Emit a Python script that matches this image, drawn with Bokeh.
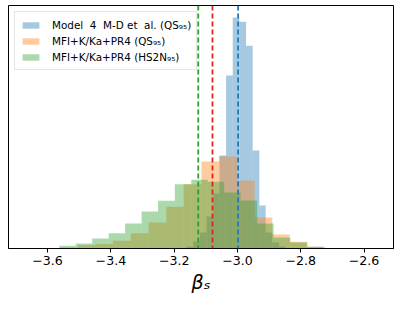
from bokeh.plotting import figure
from bokeh.models import Range1d, Span, FixedTicker, ColumnDataSource
from bokeh.embed import file_html
from bokeh.resources import INLINE

# ---- data ----
blue_edges = [-3.161, -3.140, -3.119, -3.098, -3.077, -3.057, -3.036, -3.015,
              -2.994, -2.973, -2.952, -2.931, -2.911, -2.890, -2.869, -2.848]
blue_heights = [2, 7, 16, 32, 55, 93, 173, 231, 226.7, 202.7, 98, 43, 16, 6, 2]

orange_edges = [-3.616, -3.560, -3.504, -3.449, -3.393, -3.337, -3.281, -3.225,
                -3.170, -3.114, -3.058, -3.002, -2.946, -2.890, -2.835, -2.779, -2.723]
orange_heights = [0.5, 1, 3.5, 4.5, 7.7, 15.3, 26, 41.7, 64.3, 87, 92, 68, 31, 14, 6.7, 1.7]

green_edges = [-3.563, -3.511, -3.459, -3.407, -3.355, -3.303, -3.251, -3.198, -3.146,
               -3.094, -3.042, -2.990, -2.938, -2.886, -2.833, -2.781, -2.729, -2.677]
green_heights = [2.7, 5, 10, 15.3, 25, 37, 47.7, 64.3, 68.7, 66.7, 56, 48, 25, 11, 6, 1.7, 0.5]

vlines = {"blue": -2.998, "red": -3.079, "green": -3.124}

labels = ["Model  4  M-D et  al. (QS₉₅)", "MFI+K/Ka+PR4 (QS₉₅)", "MFI+K/Ka+PR4 (HS2N₉₅)"]
tick_values = [-3.6, -3.4, -3.2, -3.0, -2.8, -2.6]
tick_labels = ["−3.6", "−3.4", "−3.2", "−3.0", "−2.8", "−2.6"]
xlabel = "βₛ"

C_BLUE, C_ORANGE, C_GREEN, C_RED = "#1f77b4", "#ff7f0e", "#2ca02c", "#d62728"

p = figure(frame_width=385, frame_height=243, output_backend="svg", toolbar_location=None,
           x_range=Range1d(-3.7235, -2.5071), y_range=Range1d(0, 243),
           y_axis_location=None, min_border_left=8, min_border_top=5,
           min_border_right=6, min_border_bottom=47)

def hist(edges, heights, color, label):
    src = ColumnDataSource(dict(
        x=[(edges[i] + edges[i + 1]) / 2 for i in range(len(heights))],
        w=[edges[i + 1] - edges[i] for i in range(len(heights))],
        top=heights))
    p.vbar(x="x", width="w", top="top", bottom=0, source=src, fill_color=color,
           fill_alpha=0.4, line_color=None, legend_label=label)

hist(blue_edges, blue_heights, C_BLUE, labels[0])
hist(orange_edges, orange_heights, C_ORANGE, labels[1])
hist(green_edges, green_heights, C_GREEN, labels[2])

for loc, col in [(vlines["blue"], C_BLUE), (vlines["red"], C_RED), (vlines["green"], C_GREEN)]:
    p.add_layout(Span(location=loc, dimension="height", line_color=col,
                      line_width=1.8, line_dash="5 3"))

p.xgrid.visible = False
p.ygrid.visible = False
p.outline_line_color = "black"
p.outline_line_width = 1
p.outline_line_alpha = 1

ax = p.xaxis[0]
ax.ticker = FixedTicker(ticks=tick_values)
ax.major_label_overrides = {v: s for v, s in zip(tick_values, tick_labels)}
ax.minor_tick_line_color = None
ax.major_tick_in = 0
ax.major_tick_out = 4
ax.major_tick_line_color = "black"
ax.axis_line_color = "black"
ax.major_label_text_font = "DejaVu Sans"
ax.major_label_text_font_size = "12.6px"
ax.major_label_text_color = "black"
ax.major_label_standoff = 3
ax.axis_label = xlabel
ax.axis_label_text_font = "DejaVu Sans"
ax.axis_label_text_font_style = "italic"
ax.axis_label_text_font_size = "19px"
ax.axis_label_text_color = "black"
ax.axis_label_standoff = 3

lg = p.legend[0]
lg.location = "top_left"
lg.margin = 6
lg.padding = 5
lg.spacing = 1
lg.glyph_width = 21
lg.glyph_height = 8
lg.label_height = 15
lg.label_standoff = 11
lg.label_text_font = "DejaVu Sans"
lg.label_text_font_size = "10.4px"
lg.label_text_color = "black"
lg.border_line_color = "#cccccc"
lg.border_line_width = 1
lg.background_fill_color = "white"
lg.background_fill_alpha = 0.8

open("out.html", "w").write(file_html(p, INLINE))
